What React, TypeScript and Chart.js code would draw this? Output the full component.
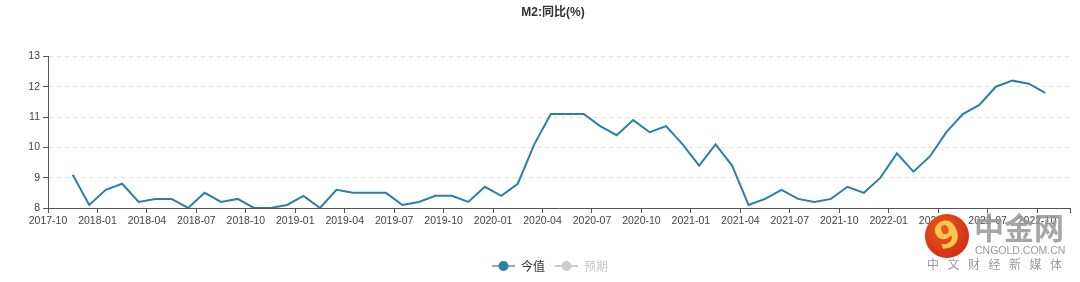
import React, { useEffect, useRef } from "react";
import { Chart, registerables } from "chart.js";

Chart.register(...registerables);

const TITLE = "M2:同比(%)";
const SERIES_NAMES = ["今值", "预期"];

const months = [
  "2017-11", "2017-12",
  "2018-01", "2018-02", "2018-03", "2018-04", "2018-05", "2018-06",
  "2018-07", "2018-08", "2018-09", "2018-10", "2018-11", "2018-12",
  "2019-01", "2019-02", "2019-03", "2019-04", "2019-05", "2019-06",
  "2019-07", "2019-08", "2019-09", "2019-10", "2019-11", "2019-12",
  "2020-01", "2020-02", "2020-03", "2020-04", "2020-05", "2020-06",
  "2020-07", "2020-08", "2020-09", "2020-10", "2020-11", "2020-12",
  "2021-01", "2021-02", "2021-03", "2021-04", "2021-05", "2021-06",
  "2021-07", "2021-08", "2021-09", "2021-10", "2021-11", "2021-12",
  "2022-01", "2022-02", "2022-03", "2022-04", "2022-05", "2022-06",
  "2022-07", "2022-08", "2022-09", "2022-10",
];

const actualValues = [
  9.1, 8.1,
  8.6, 8.8, 8.2, 8.3, 8.3, 8.0,
  8.5, 8.2, 8.3, 8.0, 8.0, 8.1,
  8.4, 8.0, 8.6, 8.5, 8.5, 8.5,
  8.1, 8.2, 8.4, 8.4, 8.2, 8.7,
  8.4, 8.8, 10.1, 11.1, 11.1, 11.1,
  10.7, 10.4, 10.9, 10.5, 10.7, 10.1,
  9.4, 10.1, 9.4, 8.1, 8.3, 8.6,
  8.3, 8.2, 8.3, 8.7, 8.5, 9.0,
  9.8, 9.2, 9.7, 10.5, 11.1, 11.4,
  12.0, 12.2, 12.1, 11.8,
];

const expectedValues: number[] = [];

const xTickLabels = [
  "2017-10", "2018-01", "2018-04", "2018-07", "2018-10",
  "2019-01", "2019-04", "2019-07", "2019-10",
  "2020-01", "2020-04", "2020-07", "2020-10",
  "2021-01", "2021-04", "2021-07", "2021-10",
  "2022-01", "2022-04", "2022-07", "2022-10",
];

const AXIS_START = "2017-10";
const AXIS_END = "2022-12";
const Y_MIN = 8;
const Y_MAX = 13;
const Y_STEP = 1;

function monthIndex(s: string): number {
  const [y, m] = s.split("-").map(Number);
  const [y0, m0] = AXIS_START.split("-").map(Number);
  return (y - y0) * 12 + (m - m0);
}

function makeIcon(lineColor: string, dotColor: string): HTMLCanvasElement {
  const c = document.createElement("canvas");
  c.width = 23;
  c.height = 12;
  const ctx = c.getContext("2d")!;
  ctx.strokeStyle = lineColor;
  ctx.lineWidth = 2;
  ctx.beginPath();
  ctx.moveTo(0, 6);
  ctx.lineTo(23, 6);
  ctx.stroke();
  ctx.fillStyle = dotColor;
  ctx.beginPath();
  ctx.arc(11.5, 6, 5, 0, Math.PI * 2);
  ctx.fill();
  return c;
}

const LINE_COLOR = "#2b80ab";
const TICK_FONT = { family: "'Liberation Sans', Arial, sans-serif", size: 10.5 };

export default function App() {
  const canvasRef = useRef<HTMLCanvasElement | null>(null);

  useEffect(() => {
    document.body.style.margin = "0";
    if (!canvasRef.current) return;

    const icons = [makeIcon("#7fb2cd", LINE_COLOR), makeIcon("#cccccc", "#cccccc")];
    const textColors = ["#333333", "#c8c8c8"];

    const shiftPlugin = {
      id: "shiftBoxes",
      afterLayout(chart: any) {
        if (chart.titleBlock) {
          chart.titleBlock.left = 36;
          chart.titleBlock.width = chart.titleBlock.right - 36;
        }
        if (chart.legend) {
          chart.legend.left = 30;
          chart.legend.width = chart.legend.right - 30;
        }
      },
    };

    const chart = new Chart(canvasRef.current, {
      type: "line",
      data: {
        datasets: [
          {
            label: SERIES_NAMES[0],
            data: months.map((m, i) => ({ x: monthIndex(m) + 0.5, y: actualValues[i] })),
            borderColor: LINE_COLOR,
            backgroundColor: LINE_COLOR,
            borderWidth: 2,
            pointRadius: 0,
            pointHoverRadius: 0,
            tension: 0,
            fill: false,
          },
          {
            label: SERIES_NAMES[1],
            data: expectedValues.map((v, i) => ({ x: monthIndex(months[i]) + 0.5, y: v })),
            borderColor: "#cccccc",
            backgroundColor: "#cccccc",
            borderWidth: 2,
            pointRadius: 0,
            tension: 0,
          },
        ],
      },
      options: {
        animation: false,
        responsive: true,
        maintainAspectRatio: false,
        events: [],
        layout: { padding: { top: 0, right: 10, bottom: 0, left: 0 } },
        plugins: {
          title: {
            display: true,
            text: TITLE,
            color: "#333333",
            font: { family: "'Liberation Sans', 'Noto Sans CJK SC', sans-serif", size: 12, weight: "bold", lineHeight: 1.2 },
            padding: { top: 5, bottom: 37 },
          },
          legend: {
            display: true,
            position: "bottom",
            labels: {
              usePointStyle: true,
              pointStyleWidth: 23,
              boxHeight: 12,
              padding: 10,
              font: { family: "'Noto Sans CJK SC', sans-serif", size: 12 },
              generateLabels: () =>
                SERIES_NAMES.map((name, i) => ({
                  text: name,
                  datasetIndex: i,
                  hidden: false,
                  pointStyle: icons[i] as any,
                  fillStyle: "transparent",
                  strokeStyle: "transparent",
                  lineWidth: 0,
                  fontColor: textColors[i],
                })),
            },
          },
          tooltip: { enabled: false },
        },
        scales: {
          x: {
            type: "linear",
            min: 0,
            max: monthIndex(AXIS_END),
            afterBuildTicks: (scale: any) => {
              const vals = xTickLabels.map(monthIndex);
              vals.push(monthIndex(AXIS_END));
              scale.ticks = vals.map((v) => ({ value: v }));
            },
            afterFit: (scale: any) => {
              scale.height = 42;
            },
            ticks: {
              autoSkip: false,
              maxRotation: 0,
              minRotation: 0,
              padding: 2,
              color: "#444444",
              font: TICK_FONT,
              callback: (value: any) => {
                const idx = xTickLabels.findIndex((l) => monthIndex(l) === Number(value));
                return idx >= 0 ? xTickLabels[idx] : "";
              },
            },
            grid: {
              drawOnChartArea: false,
              drawTicks: true,
              tickLength: 5,
              tickColor: "#555555",
              tickWidth: 1,
            },
            border: { display: true, color: "#555555", width: 1 },
          },
          y: {
            type: "linear",
            min: Y_MIN,
            max: Y_MAX,
            afterFit: (scale: any) => {
              scale.width = 48;
            },
            ticks: {
              stepSize: Y_STEP,
              padding: 3,
              color: "#444444",
              font: TICK_FONT,
            },
            grid: {
              color: "#e2e2e2",
              lineWidth: 1,
              drawTicks: true,
              tickLength: 5,
              tickColor: "#555555",
              tickBorderDash: [],
            },
            border: { display: true, color: "#555555", width: 1, dash: [4, 4] },
          },
        },
      } as any,
      plugins: [shiftPlugin],
    });

    return () => chart.destroy();
  }, []);

  return (
    <div style={{ position: "relative", width: 1080, height: 282 }}>
      <canvas ref={canvasRef} />
      <div style={{ position: "absolute", left: 0, top: 0, width: 1080, height: 282, pointerEvents: "none" }}>
        <div
          style={{
            position: "absolute",
            left: 925,
            top: 214,
            width: 44,
            height: 44,
            borderRadius: "50%",
            background: "radial-gradient(circle at 40% 35%, #ee5a1c, #c51f18)",
            overflow: "hidden",
          }}
        >
          <span
            style={{
              position: "absolute",
              left: 10,
              top: -2,
              fontFamily: "'DejaVu Sans', sans-serif",
              fontWeight: "bold",
              fontSize: 36,
              color: "#f8c84c",
              transform: "rotate(-20deg)",
              lineHeight: "46px",
            }}
          >
            9
          </span>
        </div>
        <div
          style={{
            position: "absolute",
            left: 974,
            top: 206,
            fontFamily: "'Noto Sans CJK SC', sans-serif",
            fontWeight: "bold",
            fontSize: 30,
            lineHeight: "40px",
            color: "rgba(150,150,150,0.85)",
            letterSpacing: 0,
            whiteSpace: "nowrap",
          }}
        >
          中金网
        </div>
        <div
          style={{
            position: "absolute",
            left: 975,
            top: 244,
            fontFamily: "'Liberation Sans', Arial, sans-serif",
            fontSize: 10.5,
            lineHeight: "12px",
            color: "#9a9a9a",
            whiteSpace: "nowrap",
          }}
        >
          CNGOLD.COM.CN
        </div>
        <div
          style={{
            position: "absolute",
            left: 927,
            top: 257,
            fontFamily: "'Noto Sans CJK SC', sans-serif",
            fontSize: 12,
            lineHeight: "14px",
            color: "#9a9a9a",
            letterSpacing: 8.5,
            whiteSpace: "nowrap",
          }}
        >
          中文财经新媒体
        </div>
      </div>
    </div>
  );
}
